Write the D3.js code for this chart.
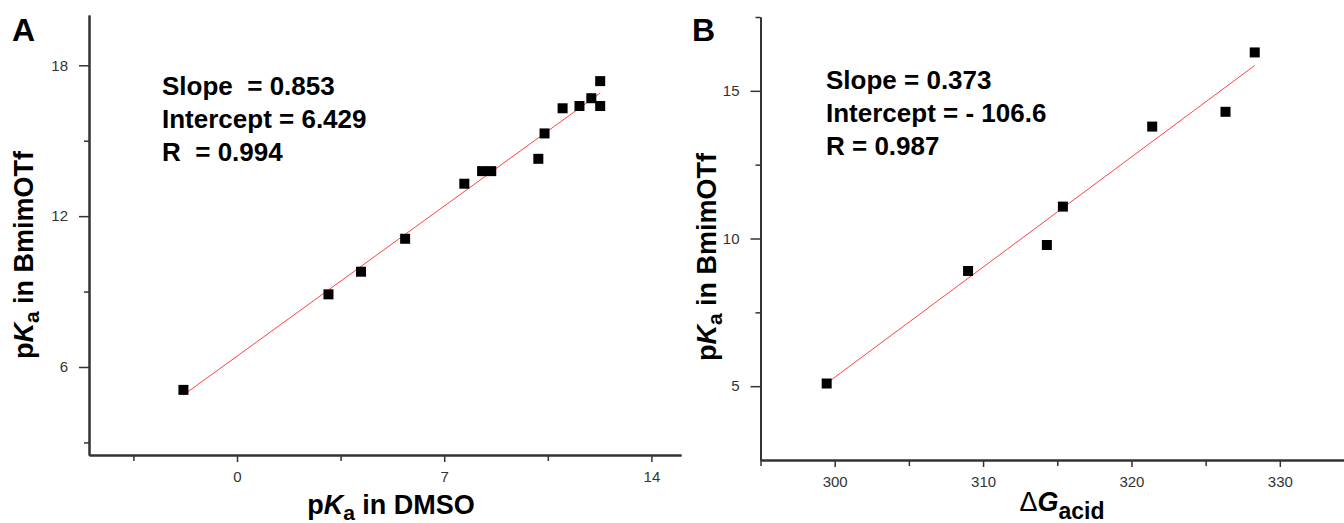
<!DOCTYPE html>
<html>
<head>
<meta charset="utf-8">
<script src="https://cdn.jsdelivr.net/npm/d3@7"></script>
<style>
body{margin:0;background:#fff;}
text{font-family:"Liberation Sans",Arial,sans-serif;}
.tick text{font-size:15px;fill:#333;}
.note{white-space:pre;}
</style>
</head>
<body>
<div id="chart"></div>
<script>
"use strict";

// panel A : pKa in DMSO (x) vs pKa in BmimOTf (y)
let dmsoA = [-1.81, 3.09, 4.19, 5.68, 7.68, 8.28, 8.59, 10.18, 10.39, 11.0, 11.57, 11.97, 12.27, 12.27];
let bmimA = [5.09, 8.89, 9.79, 11.1, 13.29, 13.79, 13.79, 14.28, 15.29, 16.29, 16.38, 16.69, 16.38, 17.37];
let fitA = [0.853, 6.429];
let notesA = ["Slope  = 0.853", "Intercept = 6.429", "R  = 0.994"];
let xTicksA = [0, 7, 14];
let xMinorA = [-3.5, 3.5, 10.5];
let yTicksA = [6, 12, 18];
let yMinorA = [3, 9, 15];

// panel B : delta G acid (x) vs pKa in BmimOTf (y)
let gacidB = [299.46, 308.99, 314.3, 315.38, 321.4, 326.34, 328.31];
let bmimB = [5.09, 8.9, 9.78, 11.08, 13.79, 14.29, 16.3];
let fitB = [0.373, -106.6];
let notesB = ["Slope = 0.373", "Intercept = - 106.6", "R = 0.987"];
let xTicksB = [300, 310, 320, 330];
let xMinorB = [295, 305, 315, 325, 335];
let yTicksB = [5, 10, 15];
let yMinorB = [7.5, 12.5, 17.5];

let svg = d3.select("#chart")
.append("svg")
.attr("width",1344)
.attr("height",523);

function panel(opt){
  let x = d3.scaleLinear().domain(opt.xDom).range(opt.xRange);
  let y = d3.scaleLinear().domain(opt.yDom).range(opt.yRange);
  let g = svg.append("g");

  // minor ticks first, then major with labels
  g.append("g")
  .attr("transform","translate(0,"+opt.yRange[0]+")")
  .call(d3.axisBottom(x).tickValues(opt.xMinor).tickSize(6).tickSizeOuter(0).tickFormat(""));
  g.append("g")
  .attr("transform","translate(0,"+opt.yRange[0]+")")
  .call(d3.axisBottom(x).tickValues(opt.xTicks).tickSize(7).tickSizeOuter(0).tickPadding(9));
  g.append("g")
  .attr("transform","translate("+opt.xRange[0]+",0)")
  .call(d3.axisLeft(y).tickValues(opt.yMinor).tickSize(5).tickSizeOuter(0).tickFormat(""));
  g.append("g")
  .attr("transform","translate("+opt.xRange[0]+",0)")
  .call(d3.axisLeft(y).tickValues(opt.yTicks).tickSize(10).tickSizeOuter(0).tickPadding(11));

  g.selectAll(".domain").attr("stroke","#333").attr("stroke-width",2);
  g.selectAll(".tick line").attr("stroke","#333").attr("stroke-width",1.5);

  // fit line over the data range
  let xs = d3.extent(opt.xs);
  g.append("line")
  .attr("x1",x(xs[0]))
  .attr("y1",y(opt.fit[0]*xs[0]+opt.fit[1]))
  .attr("x2",x(xs[1]))
  .attr("y2",y(opt.fit[0]*xs[1]+opt.fit[1]))
  .attr("stroke","#f44")
  .attr("stroke-width",1);

  // square points
  g.selectAll("rect.pt")
  .data(d3.range(opt.xs.length))
  .join("rect")
  .attr("class","pt")
  .attr("x",function(i){ return x(opt.xs[i])-5; })
  .attr("y",function(i){ return y(opt.ys[i])-5; })
  .attr("width",10)
  .attr("height",10)
  .attr("fill","#000");

  // annotation
  for(let i=0;i<opt.notes.length;i=i+1){
    g.append("text")
    .attr("class","note")
    .attr("x",opt.noteX)
    .attr("y",opt.noteY+i*opt.noteGap)
    .attr("font-size",26)
    .attr("font-weight","bold")
    .text(opt.notes[i]);
  }

  // panel letter
  g.append("text")
  .attr("x",opt.letterX)
  .attr("y",41)
  .attr("font-size",32)
  .attr("font-weight","bold")
  .text(opt.letter);

  // y label: pKa in BmimOTf
  let yl = g.append("text")
  .attr("transform","translate("+opt.yLabX+","+opt.yLabY+") rotate(-90)")
  .attr("text-anchor","middle")
  .attr("font-size",27)
  .attr("font-weight","bold");
  yl.append("tspan").text("p");
  yl.append("tspan").attr("font-style","italic").text("K");
  yl.append("tspan").attr("font-size",21).attr("dy",6).text("a");
  yl.append("tspan").attr("dy",-6).text(" in BmimOTf");

  return g;
}

let gA = panel({
  xDom:[-5,15], xRange:[89,681], yDom:[2.5,20], yRange:[455,15],
  xs:dmsoA, ys:bmimA, fit:fitA, notes:notesA,
  xTicks:xTicksA, xMinor:xMinorA, yTicks:yTicksA, yMinor:yMinorA,
  noteX:162, noteY:95, noteGap:33, letter:"A", letterX:12,
  yLabX:33, yLabY:255
});

let gB = panel({
  xDom:[295,335], xRange:[760.5,1354], yDom:[2.5,17.5], yRange:[460,17],
  xs:gacidB, ys:bmimB, fit:fitB, notes:notesB,
  xTicks:xTicksB, xMinor:xMinorB, yTicks:yTicksB, yMinor:yMinorB,
  noteX:826, noteY:89, noteGap:33, letter:"B", letterX:692,
  yLabX:716, yLabY:257
});

// x labels
let xlA = gA.append("text")
.attr("x",391)
.attr("y",514)
.attr("text-anchor","middle")
.attr("font-size",27)
.attr("font-weight","bold");
xlA.append("tspan").text("p");
xlA.append("tspan").attr("font-style","italic").text("K");
xlA.append("tspan").attr("font-size",21).attr("dy",6).text("a");
xlA.append("tspan").attr("dy",-6).text(" in DMSO");

let xlB = gB.append("text")
.attr("x",1062)
.attr("y",511)
.attr("text-anchor","middle")
.attr("font-size",27);
xlB.append("tspan").text("\u0394");
xlB.append("tspan").attr("font-weight","bold").attr("font-style","italic").text("G");
xlB.append("tspan").attr("font-weight","bold").attr("font-size",23).attr("dy",8).text("acid");
</script>
</body>
</html>
